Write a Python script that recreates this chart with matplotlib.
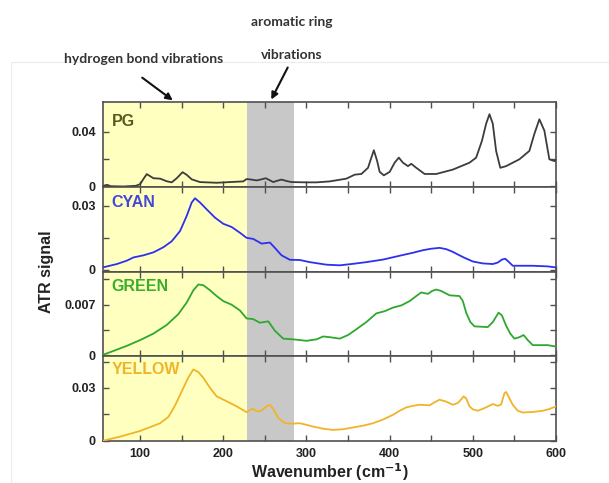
import numpy as np
import matplotlib
matplotlib.use("Agg")
import matplotlib.pyplot as plt
from matplotlib.patches import Rectangle, FancyArrowPatch

plt.rcParams['font.family'] = ['Liberation Sans', 'DejaVu Sans']

# --- donnees ---
x_pg = [55, 60, 65, 80, 95, 100, 104, 108, 112, 116, 124, 132, 138, 144, 151, 156, 162, 172, 192,
        224, 228, 234, 240, 246, 251, 256, 260, 265, 270, 276, 282, 300, 312, 328, 348, 358, 366,
        374, 378, 381, 385, 388, 393, 400, 406, 411, 416, 422, 426, 432, 442, 456, 476, 496, 504,
        511, 516, 520, 524, 528, 533, 540, 556, 568, 574, 580, 586, 592, 598, 600]
y_pg = [0.0003, 0.0012, 0.0002, 0.0, 0.0005, 0.0017, 0.0055, 0.009, 0.0075, 0.006, 0.0057, 0.0038,
        0.003, 0.006, 0.0104, 0.0085, 0.0052, 0.0032, 0.0027, 0.0037, 0.0054, 0.005, 0.0044, 0.0052,
        0.006, 0.0045, 0.0032, 0.0042, 0.005, 0.004, 0.0032, 0.003, 0.003, 0.0037, 0.0057, 0.0086,
        0.0091, 0.0136, 0.021, 0.0264, 0.0185, 0.0106, 0.0081, 0.0106, 0.0173, 0.021, 0.0173, 0.0148,
        0.0165, 0.0136, 0.0091, 0.0091, 0.0123, 0.0173, 0.021, 0.0333, 0.0457, 0.0526, 0.0457, 0.0259,
        0.0136, 0.0148, 0.0198, 0.0259, 0.0383, 0.0489, 0.0407, 0.0198, 0.0185, 0.0190]

x_cyan = [55, 72, 84, 92, 104, 116, 128, 138, 148, 156, 162, 166, 172, 180, 190, 200, 210, 220,
          228, 236, 246, 256, 262, 270, 280, 292, 304, 324, 340, 356, 372, 392, 412, 428, 440, 450,
          460, 468, 476, 488, 500, 512, 524, 530, 535, 539, 543, 548, 572, 590, 600]
y_cyan = [0.0011, 0.0027, 0.0043, 0.0058, 0.0068, 0.0082, 0.0106, 0.0134, 0.0182, 0.0253, 0.0316,
          0.0336, 0.0316, 0.0284, 0.0245, 0.0216, 0.0201, 0.0174, 0.015, 0.0145, 0.0123, 0.0128,
          0.0103, 0.0068, 0.0047, 0.0046, 0.0036, 0.0024, 0.0021, 0.0028, 0.0036, 0.0048, 0.0066,
          0.008, 0.0092, 0.0099, 0.0103, 0.0097, 0.0084, 0.006, 0.0039, 0.003, 0.0027, 0.0034, 0.0048,
          0.0052, 0.0038, 0.0019, 0.0019, 0.0016, 0.0011]

x_green = [55, 68, 84, 100, 116, 132, 146, 156, 164, 170, 176, 184, 192, 200, 210, 220, 228, 236,
           244, 254, 262, 272, 284, 300, 312, 320, 328, 340, 350, 360, 372, 384, 394, 404, 414, 424,
           432, 438, 446, 451, 456, 462, 472, 484, 488, 492, 497, 502, 518, 524, 531, 535, 540, 545,
           550, 556, 561, 566, 572, 590, 600]
y_green = [0.00005, 0.0006, 0.0013, 0.0021, 0.003, 0.0042, 0.0057, 0.0073, 0.009, 0.0098, 0.0097,
           0.009, 0.0082, 0.0075, 0.007, 0.0062, 0.0051, 0.005, 0.0045, 0.0047, 0.0034, 0.0023, 0.0022,
           0.002, 0.0022, 0.0026, 0.0025, 0.0023, 0.0028, 0.0036, 0.0046, 0.0058, 0.0061, 0.0066,
           0.0069, 0.0075, 0.0082, 0.0087, 0.0085, 0.0089, 0.0091, 0.0089, 0.0083, 0.0082, 0.0075,
           0.0059, 0.0046, 0.004, 0.0039, 0.0046, 0.0059, 0.0055, 0.0041, 0.003, 0.0023, 0.0025,
           0.0028, 0.0021, 0.0014, 0.0014, 0.0012]

x_yellow = [56, 76, 100, 124, 134, 142, 150, 158, 164, 170, 176, 184, 192, 204, 216, 228, 235, 240,
            245, 252, 256, 260, 266, 274, 284, 292, 300, 308, 320, 332, 344, 356, 368, 380, 392, 404,
            412, 420, 428, 436, 448, 454, 460, 468, 476, 482, 486, 489, 492, 496, 500, 506, 514, 524,
            530, 534, 538, 540, 543, 548, 554, 560, 572, 584, 592, 600]
y_yellow = [0.0, 0.0023, 0.0055, 0.0099, 0.0135, 0.02, 0.028, 0.036, 0.0405, 0.039, 0.0357, 0.03,
            0.0252, 0.0224, 0.0195, 0.0162, 0.0182, 0.0168, 0.0168, 0.0195, 0.0204, 0.018, 0.013,
            0.0099, 0.0097, 0.0099, 0.009, 0.008, 0.0068, 0.0061, 0.0065, 0.0075, 0.0085, 0.0099,
            0.012, 0.0147, 0.017, 0.0189, 0.0198, 0.0204, 0.0201, 0.0218, 0.0233, 0.0222, 0.0204,
            0.0214, 0.0235, 0.0252, 0.024, 0.0195, 0.0178, 0.017, 0.0185, 0.0208, 0.0198, 0.0205,
            0.027, 0.0277, 0.025, 0.0204, 0.017, 0.016, 0.0163, 0.017, 0.018, 0.0195]

panneaux = [
    ("PG", x_pg, y_pg, '#3c3c3c', '#5a5820', (-0.0002, 0.0615), [0, 0.04], ["0", "0.04"], [0.02], 0.77),
    ("CYAN", x_cyan, y_cyan, '#2f2ff0', '#4646d6', (-0.0008, 0.039), [0, 0.03], ["0", "0.03"], [0.015], 0.81),
    ("GREEN", x_green, y_green, '#2ea82e', '#3aae2a', (-0.00014, 0.0116), [0, 0.007], ["0", "0.007"],
     [0.0035, 0.0105], 0.82),
    ("YELLOW", x_yellow, y_yellow, '#f0b428', '#f0b428', (-0.0002, 0.048), [0, 0.03], ["0", "0.03"],
     [0.015, 0.045], 0.84),
]

W, H = 609, 483
fig = plt.figure(figsize=(W / 100, H / 100), dpi=100)

# cadre tres clair de l'image d'origine
fig.add_artist(Rectangle((11 / W, 0), 1.0, 1 - 62 / H, transform=fig.transFigure,
                         fill=False, edgecolor='#ebebeb', linewidth=0.8))

gauche, droite = 102.7 / W, 556 / W
haut_px, bas_px = 102, 441
h_px = (bas_px - haut_px) / 4
couleur_cadre = '#505050'

axes = []
for i, (nom, xs, ys, c_ligne, c_texte, ylim, yt, ytl, ymin, ypos) in enumerate(panneaux):
    bas = 1 - (haut_px + (i + 1) * h_px) / H
    ax = fig.add_axes([gauche, bas, droite - gauche, h_px / H])
    ax.axvspan(55, 228, color='#ffffc0', lw=0, zorder=0)
    ax.axvspan(228, 285, color='#c8c8c8', lw=0, zorder=0)
    ax.plot(xs, ys, color=c_ligne, lw=1.3, zorder=3, solid_joinstyle='round')
    ax.set_xlim(55, 600)
    ax.set_ylim(*ylim)
    ax.set_xticks([100, 200, 300, 400, 500, 600])
    ax.set_xticks([150, 250, 350, 450, 550], minor=True)
    ax.set_yticks(yt)
    ax.set_yticklabels(ytl)
    ax.set_yticks(ymin, minor=True)
    ax.tick_params(which='both', direction='in', top=True, right=True, length=4,
                   width=1, color=couleur_cadre, labelsize=9, pad=5)
    for lab in ax.get_yticklabels():
        lab.set_fontweight('bold')
        lab.set_color('#222222')
    if i < 3:
        ax.tick_params(labelbottom=False)
    else:
        for lab in ax.get_xticklabels():
            lab.set_fontweight('bold')
            lab.set_color('#222222')
    for s in ax.spines.values():
        s.set_color(couleur_cadre)
        s.set_linewidth(1.2)
    ax.text(0.02, ypos, nom, transform=ax.transAxes, fontsize=11.5, fontweight='bold',
            color=c_texte, va='center', ha='left')
    axes.append(ax)

axes[-1].set_xlabel('Wavenumber (cm$^{\\mathbf{-1}}$)', fontsize=11.5, fontweight='bold',
                    color='#222222', labelpad=1)
fig.text(47 / W, 1 - 272 / H, 'ATR signal', rotation=90, fontsize=11.5, fontweight='bold',
         color='#222222', ha='center', va='center')

# annotations du haut
for txt, xp, yp in [('hydrogen bond vibrations', 144, 59), ('aromatic ring', 292, 22),
                    ('vibrations', 292, 55)]:
    fig.text(xp / W, 1 - yp / H, txt, family=['Lato', 'DejaVu Sans'], fontsize=10,
             fontweight='bold', color='#333333', ha='center', va='center')
fig.add_artist(FancyArrowPatch((140 / W, 1 - 76 / H), (175 / W, 1 - 102 / H),
                               transform=fig.transFigure, arrowstyle='-|>',
                               mutation_scale=10, lw=1.5, color='#111111'))
fig.add_artist(FancyArrowPatch((289 / W, 1 - 65 / H), (270 / W, 1 - 102 / H),
                               transform=fig.transFigure, arrowstyle='-|>',
                               mutation_scale=10, lw=1.5, color='#111111'))

fig.savefig('out.png', dpi=100)
